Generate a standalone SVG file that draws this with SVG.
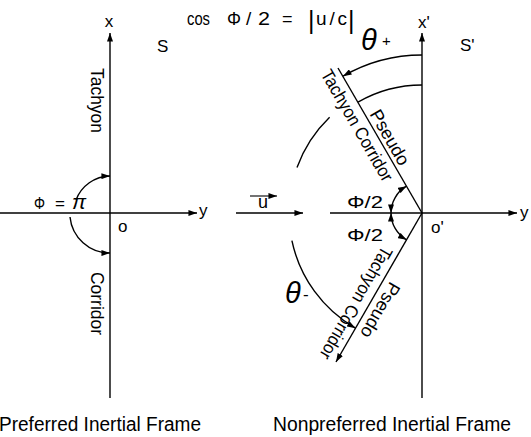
<svg xmlns="http://www.w3.org/2000/svg" width="531" height="437" viewBox="0 0 531 437">
<style>
  .ln { stroke:#000; stroke-width:1.4; fill:none; }
  .ar { marker-end:url(#ah); }
  .t { font-family:"Liberation Sans","DejaVu Sans",sans-serif; fill:#000; font-size:17px; }
  .lb { font-size:18px; }
  .big { font-size:20px; }
  .th { font-style:italic; font-size:29px; }
</style>
<defs>
  <marker id="ah" viewBox="0 0 10 7" refX="10" refY="3.5" markerWidth="9" markerHeight="6" markerUnits="userSpaceOnUse" orient="auto-start-reverse">
    <path d="M0,0 L10,3.5 L0,7 z" fill="#000"/>
  </marker>
</defs>
<rect width="531" height="437" fill="#fff"/>

<g id="connectors">
  <!-- Frame S -->
  <line class="ln ar" x1="110" y1="398" x2="110" y2="33"/>
  <line class="ln ar" x1="0" y1="213" x2="197" y2="213"/>
  <path class="ln ar" d="M76,200 A37,37 0 0 1 110,176"/>
  <path class="ln ar" d="M70,217 A40,40 0 0 0 110,253"/>
  <!-- Frame S' -->
  <line class="ln ar" x1="422" y1="398" x2="422" y2="33"/>
  <line class="ln ar" x1="236" y1="213" x2="303" y2="213"/>
  <line class="ln ar" x1="330" y1="213" x2="517" y2="213"/>
  <line class="ln ar" x1="250" y1="196" x2="277" y2="196" style="stroke-width:1.1"/>
  <line class="ln" x1="422" y1="213" x2="338" y2="68"/>
  <line class="ln ar" x1="422" y1="213" x2="336" y2="362"/>
  <path class="ln ar" d="M422,55 A158,158 0 0 0 343,76.2"/>
  <path class="ln" d="M422,85 A128,128 0 0 0 358,102.1"/>
  <path class="ln" d="M329.6,117.3 A133,133 0 0 0 297,167.5"/>
  <path class="ln ar" d="M291.9,240.7 A133,133 0 0 0 355.5,328.2"/>
  <path class="ln ar" style="marker-start:url(#ah)" d="M391,213 A31,31 0 0 1 406.5,186.2"/>
  <path class="ln ar" style="marker-start:url(#ah)" d="M391,213 A31,31 0 0 0 406.5,239.8"/>
</g>

<g id="title">
  <text class="t" x="187" y="25" style="font-size:18px" textLength="23" lengthAdjust="spacingAndGlyphs">cos</text>
  <text class="t" x="227" y="25" style="font-size:18px" textLength="14" lengthAdjust="spacingAndGlyphs">Φ</text>
  <text class="t" x="246" y="25" style="font-size:19px">/</text>
  <text class="t" x="258" y="25" style="font-size:19px" textLength="12" lengthAdjust="spacingAndGlyphs">2</text>
  <text class="t" x="282" y="25" style="font-size:18px">=</text>
  <text class="t" x="308" y="29" style="font-size:25px">|</text>
  <text class="t" x="316" y="25" style="font-size:19px" textLength="31" lengthAdjust="spacing">u/c</text>
  <text class="t" x="348" y="29" style="font-size:25px">|</text>
</g>

<g id="frame-S">
  <text class="t" x="109" y="27" text-anchor="middle">x</text>
  <text class="t" x="157" y="52">S</text>
  <text class="t" x="199" y="216">y</text>
  <text class="t" x="118" y="232">o</text>
  <text class="t" x="34" y="209" textLength="11" lengthAdjust="spacingAndGlyphs">Φ</text>
  <text class="t" x="55" y="209">=</text>
  <text class="t" x="72" y="209" style="font-style:italic;font-size:21px">π</text>
  <text class="t lb" transform="translate(91,68) rotate(90)" textLength="65" lengthAdjust="spacingAndGlyphs">Tachyon</text>
  <text class="t lb" transform="translate(91,272) rotate(90)" textLength="63" lengthAdjust="spacingAndGlyphs">Corridor</text>
  <text class="t big" x="-1" y="431" textLength="202" lengthAdjust="spacingAndGlyphs">Preferred Inertial Frame</text>
</g>

<g id="frame-S-prime">
  <text class="t" x="418" y="28">x'</text>
  <text class="t" x="460" y="51">S'</text>
  <text class="t" x="520" y="218">y</text>
  <text class="t" x="431" y="233">o'</text>
  <text class="t" x="258" y="208" style="font-size:18px">u</text>
  <text class="t" x="347" y="208" textLength="36" lengthAdjust="spacingAndGlyphs">Φ/2</text>
  <text class="t" x="347" y="241" textLength="36" lengthAdjust="spacingAndGlyphs">Φ/2</text>
  <text class="t" y="50"><tspan class="th" x="361">θ</tspan><tspan x="382" style="font-size:15px" dy="-4">+</tspan></text>
  <text class="t" y="303"><tspan class="th" x="285">θ</tspan><tspan x="303" style="font-size:17px" dy="-3">-</tspan></text>
  <text class="t lb" transform="translate(384.5,140.5) rotate(60)" text-anchor="middle">Pseudo</text>
  <text class="t lb" transform="translate(351.8,128.5) rotate(60)" text-anchor="middle" textLength="126" lengthAdjust="spacingAndGlyphs">Tachyon Corridor</text>
  <text class="t lb" transform="translate(375.1,307.2) rotate(120)" text-anchor="middle">Pseudo</text>
  <text class="t lb" transform="translate(350.8,300.1) rotate(120)" text-anchor="middle" textLength="127" lengthAdjust="spacingAndGlyphs">Tachyon Corridor</text>
  <text class="t big" x="273" y="431" textLength="238" lengthAdjust="spacingAndGlyphs">Nonpreferred Inertial Frame</text>
</g>
</svg>
